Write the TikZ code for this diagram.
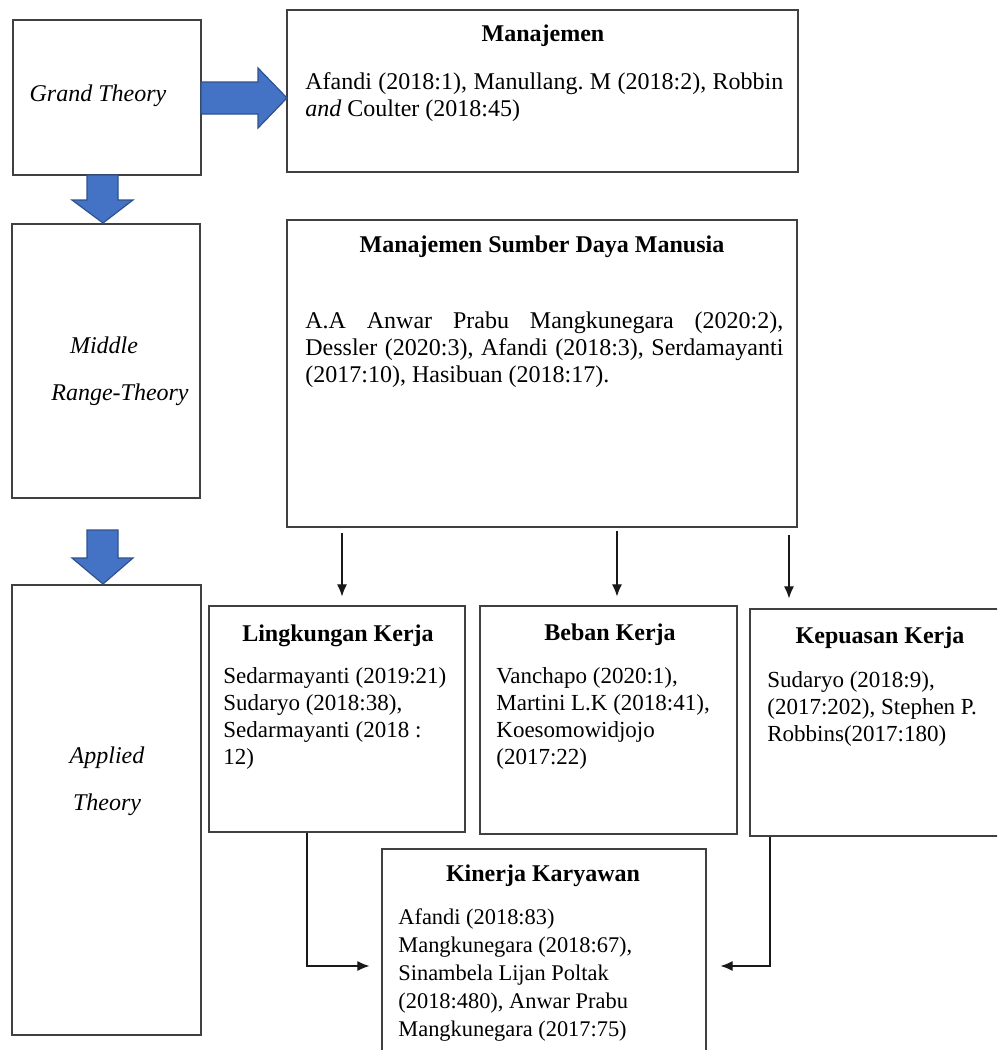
\documentclass[tikz,border=0pt]{standalone}
\usepackage{fontspec}
\setmainfont{Liberation Serif}
\usetikzlibrary{arrows.meta,fit}
\definecolor{blockblue}{HTML}{4472C4}
\definecolor{blockedge}{HTML}{2F528F}
\frenchspacing
\newcommand{\bodyfont}{\fontsize{12}{13.5}\selectfont}
\newcommand{\smallbody}{\fontsize{11.5}{13.5}\selectfont}
\tikzset{
  box/.style={draw=black!75, line width=0.6pt, inner sep=0pt},
  title/.style={anchor=base, inner sep=0pt, font=\bodyfont\bfseries},
  side/.style={anchor=base, inner sep=0pt, font=\bodyfont\itshape},
  body/.style={anchor=north west, inner sep=0pt, align=left, font=\bodyfont},
  blockarrow/.style={fill=blockblue, draw=blockedge, line width=0.6pt},
  link/.style={draw=black!90, line width=0.55pt, -{Latex[length=6pt,width=5pt]}},
}
\begin{document}
\begin{tikzpicture}[x=0.5pt,y=-0.5pt]
  \useasboundingbox (0,0) rectangle (997,1050);
  \clip (0,0) rectangle (997,1050);

  \node[box, fit={(13,20) (201,175)}] (grand) {};
  \node[box, fit={(12,224) (200,498)}] (middle) {};
  \node[box, fit={(12,585) (201,1035)}] (applied) {};
  \node[box, fit={(287,10) (798,172)}] (man) {};
  \node[box, fit={(287,220) (797,527)}] (msdm) {};
  \node[box, fit={(209,606) (465,832)}] (lingk) {};
  \node[box, fit={(480,606) (737,834)}] (beban) {};
  \node[box, fit={(750,609) (1010,836)}] (kepu) {};
  \node[box, fit={(382,849) (706,1080)}] (kin) {};

  \node[side] (grandtxt) at (98,101) {Grand Theory};
  \node[side] (midtxt) at (104,353) {Middle};
  \node[side] (rangetxt) at (120,400) {Range-Theory};
  \node[side] (apptxt) at (107,763) {Applied};
  \node[side] (thtxt) at (107,810) {Theory};

  \node[title] (mantitle) at (543,41) {Manajemen};
  \node[body, text width=239pt, align=justify] (manbody) at (305,72)
    {Afandi (2018:1), Manullang. M (2018:2), Robbin\linebreak \textit{and} Coulter (2018:45)};
  \node[title] (msdmtitle) at (542,252) {Manajemen Sumber Daya Manusia};
  \node[body, text width=239pt, align=justify] (msdmbody) at (305,311)
    {A.A Anwar Prabu Mangkunegara (2020:2),\linebreak Dessler (2020:3), Afandi (2018:3), Serdamayanti\linebreak (2017:10), Hasibuan (2018:17).};
  \node[title] (lingktitle) at (338,641) {Lingkungan Kerja};
  \node[body, font=\smallbody] (lingkbody) at (223,667)
    {Sedarmayanti (2019:21)\\Sudaryo (2018:38),\\Sedarmayanti (2018 :\\12)};
  \node[title] (bebantitle) at (610,640) {Beban Kerja};
  \node[body, font=\smallbody] (bebanbody) at (496,667)
    {Vanchapo (2020:1),\\Martini L.K (2018:41),\\Koesomowidjojo\\(2017:22)};
  \node[title] (keputitle) at (880,643) {Kepuasan Kerja};
  \node[body, font=\smallbody] (kepubody) at (767,671)
    {Sudaryo (2018:9),\\(2017:202), Stephen P.\\Robbins(2017:180)};
  \node[title] (kintitle) at (543,881) {Kinerja Karyawan};
  \node[body, font=\fontsize{11.2}{14}\selectfont] (kinbody) at (398,908)
    {Afandi (2018:83)\\Mangkunegara (2018:67),\\Sinambela Lijan Poltak\\(2018:480), Anwar Prabu\\Mangkunegara (2017:75)};

  \draw[blockarrow] (201,82) -- (258,82) -- (258,68) -- (287,98) -- (258,128) -- (258,114) -- (201,114) -- cycle;
  \draw[blockarrow] (87,175) -- (118,175) -- (118,200) -- (133,200) -- (103,223) -- (72,200) -- (87,200) -- cycle;
  \draw[blockarrow] (87,530) -- (118,530) -- (118,558) -- (133,558) -- (103,584) -- (72,558) -- (87,558) -- cycle;

  \coordinate (d1) at (342,533);
  \coordinate (d2) at (617,531);
  \coordinate (d3) at (789,535);
  \coordinate (e1) at (307,966);
  \coordinate (e2) at (770,966);

  \draw[link, shorten >=4.5pt] (d1) -- (d1 |- lingk.north);
  \draw[link, shorten >=4.5pt] (d2) -- (d2 |- beban.north);
  \draw[link, shorten >=5pt] (d3) -- (d3 |- kepu.north);
  \draw[link, shorten >=6pt] (e1 |- lingk.south) |- (kin.west |- e1);
  \draw[link, shorten >=7pt] (e2 |- kepu.south) |- (kin.east |- e2);
\end{tikzpicture}
\end{document}
